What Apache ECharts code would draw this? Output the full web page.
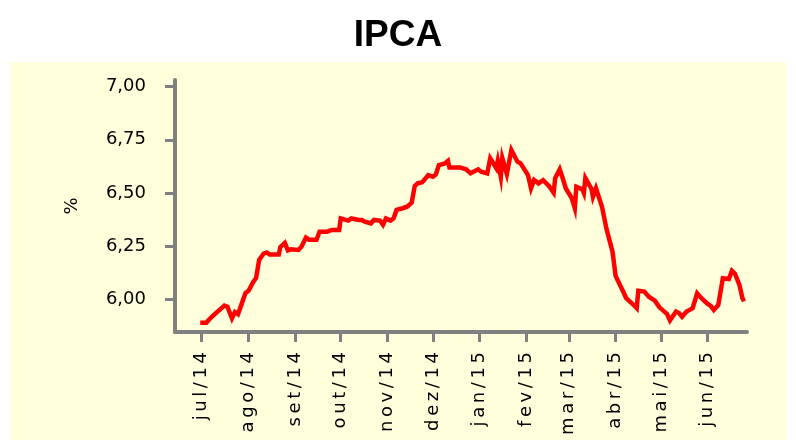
<!DOCTYPE html>
<html>
<head>
<meta charset="utf-8">
<script src="https://cdn.jsdelivr.net/npm/echarts@6/dist/echarts.min.js"></script>
<style>
html,body{margin:0;padding:0;background:#ffffff;}
#chart{width:796px;height:446px;}
</style>
</head>
<body>
<div id="chart"></div>
<script>
// Dates of observations
var dates = [
'2014-06-30','2014-07-04','2014-07-08','2014-07-16','2014-07-18','2014-07-21','2014-07-23','2014-07-25','2014-07-28','2014-07-30',
'2014-08-01','2014-08-04','2014-08-06','2014-08-08','2014-08-11','2014-08-13','2014-08-15','2014-08-21','2014-08-22','2014-08-25',
'2014-08-27','2014-08-29','2014-09-03','2014-09-05','2014-09-08','2014-09-10','2014-09-15','2014-09-17','2014-09-22','2014-09-25',
'2014-09-30','2014-10-01','2014-10-06','2014-10-08','2014-10-13','2014-10-15','2014-10-17','2014-10-21','2014-10-23','2014-10-27',
'2014-10-29','2014-10-31','2014-11-03','2014-11-05','2014-11-07','2014-11-11','2014-11-14','2014-11-17','2014-11-19','2014-11-21',
'2014-11-24','2014-11-28','2014-12-01','2014-12-03','2014-12-05','2014-12-09','2014-12-11','2014-12-12','2014-12-19','2014-12-23',
'2014-12-26','2014-12-31','2015-01-02','2015-01-06','2015-01-08','2015-01-12','2015-01-13','2015-01-15','2015-01-16','2015-01-19',
'2015-01-22','2015-01-26','2015-01-28','2015-02-02','2015-02-04','2015-02-06','2015-02-09','2015-02-12','2015-02-16','2015-02-19',
'2015-02-20','2015-02-23','2015-02-25','2015-02-27','2015-03-03','2015-03-05','2015-03-06','2015-03-10','2015-03-11','2015-03-12',
'2015-03-16','2015-03-17','2015-03-19','2015-03-23','2015-03-26','2015-03-30','2015-04-01','2015-04-06','2015-04-08','2015-04-13',
'2015-04-15','2015-04-16','2015-04-20','2015-04-23','2015-04-27','2015-04-30','2015-05-05','2015-05-07','2015-05-11','2015-05-13',
'2015-05-15','2015-05-18','2015-05-20','2015-05-22','2015-05-25','2015-05-27','2015-05-29','2015-06-01','2015-06-03','2015-06-05',
'2015-06-08','2015-06-11','2015-06-15','2015-06-16','2015-06-17','2015-06-19','2015-06-22','2015-06-24','2015-06-25'
];
// IPCA values (%)
var ipca = [
5.89,5.89,5.92,5.97,5.965,5.91,5.94,5.93,5.99,6.03,
6.04,6.08,6.10,6.185,6.215,6.22,6.21,6.21,6.245,6.265,
6.23,6.235,6.232,6.247,6.29,6.28,6.28,6.318,6.318,6.326,
6.326,6.38,6.37,6.38,6.373,6.373,6.365,6.357,6.373,6.37,
6.35,6.38,6.37,6.38,6.42,6.428,6.435,6.454,6.532,6.545,
6.55,6.584,6.576,6.587,6.631,6.639,6.651,6.62,6.62,6.611,
6.592,6.611,6.60,6.592,6.663,6.616,6.651,6.576,6.663,6.589,
6.702,6.647,6.64,6.584,6.522,6.561,6.545,6.56,6.532,6.501,
6.569,6.611,6.569,6.522,6.475,6.428,6.529,6.517,6.50,6.57,
6.52,6.482,6.522,6.435,6.33,6.222,6.11,6.036,6.005,5.973,
5.958,6.04,6.036,6.012,5.993,5.962,5.931,5.90,5.942,5.935,
5.918,5.942,5.95,5.958,6.028,6.012,5.997,5.978,5.969,5.95,
5.973,6.099,6.095,6.09,6.134,6.12,6.067,6.005,5.99
];
// x-axis tick dates and labels
var tickDates = ['2014-07-01','2014-08-01','2014-09-01','2014-10-01','2014-11-01','2014-12-01',
                 '2015-01-01','2015-02-01','2015-03-01','2015-04-01','2015-05-01','2015-06-01'];
var tickLabels = ['jul/14','ago/14','set/14','out/14','nov/14','dez/14',
                  'jan/15','fev/15','mar/15','abr/15','mai/15','jun/15'];
// y-axis tick values
var yTicks = [6.00, 6.25, 6.50, 6.75, 7.00];

function ts(s){ var p=s.split('-'); return Date.UTC(+p[0], +p[1]-1, +p[2]); }
var seriesData = dates.map(function(d,i){ return [ts(d), ipca[i]]; });
var tickTs = tickDates.map(ts);
var labelMap = {};
tickTs.forEach(function(t,i){ labelMap[t] = tickLabels[i]; });
// wide tracking of the rotated month labels
function track(s){ return s.split('').join('\u2009'); }

var xMin = ts('2014-06-13') + 7*3600*1000;
var xMax = ts('2015-06-27');

var chart = echarts.init(document.getElementById('chart'), null, {renderer:'canvas'});
var font = 'DejaVu Sans';
chart.setOption({
  animation:false,
  backgroundColor:'#ffffff',
  graphic:[{type:'rect', z:-10, silent:true, shape:{x:10,y:62,width:776,height:378}, style:{fill:'#ffffdc'}}],
  title:{text:'IPCA', left:'center', top:12, textStyle:{fontFamily:'Liberation Sans', fontWeight:'bold', fontSize:37, color:'#000'}},
  grid:{left:175, top:80, right:49, bottom:114, containLabel:false},
  xAxis:{
    type:'value', min:xMin, max:xMax,
    axisLine:{lineStyle:{color:'#808080', width:4}},
    axisTick:{show:true, customValues:tickTs, length:10, lineStyle:{color:'#808080', width:3}},
    axisLabel:{customValues:tickTs, rotate:90, margin:20, color:'#000', fontFamily:font, fontSize:18,
      formatter:function(v){ return labelMap[v] ? track(labelMap[v]) : ''; }},
    splitLine:{show:false}
  },
  yAxis:{
    type:'value', min:5.846, max:7.031,
    name:'%', nameLocation:'middle', nameGap:94, nameRotate:90,
    nameTextStyle:{fontFamily:font, fontSize:18, color:'#000'},
    axisLine:{show:true, lineStyle:{color:'#808080', width:4}},
    axisTick:{show:true, customValues:yTicks, length:10, lineStyle:{color:'#808080', width:3}},
    axisLabel:{customValues:yTicks, margin:29, color:'#000', fontFamily:font, fontSize:18,
      formatter:function(v){ return v.toFixed(2).replace('.', ','); }},
    splitLine:{show:false}
  },
  series:[{type:'line', data:seriesData, showSymbol:false, symbol:'none',
    lineStyle:{color:'#ff0000', width:4.5, join:'miter'}}]
});
</script>
</body>
</html>
